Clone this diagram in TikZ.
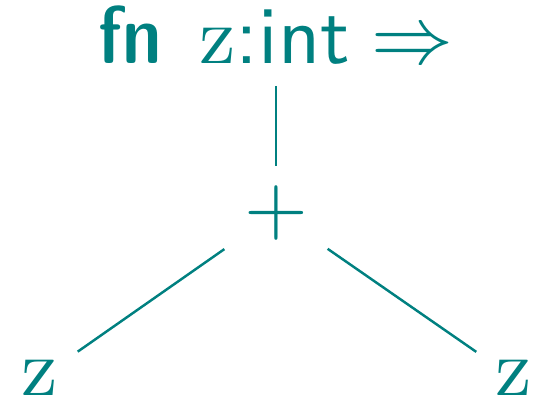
\documentclass[tikz,border=0pt]{standalone}
\usepackage{amsmath,amssymb}
\usepackage{xcolor}
\usepackage{tikz}
\usetikzlibrary{positioning}

\begin{document}
\begin{tikzpicture}[
    x=0.122pt,y=-0.122pt,
    every node/.style={text=teal,font=\fontsize{10}{12}\selectfont},
    root/.style={anchor=base,inner xsep=0pt,inner ysep=2.6pt,text depth=0pt},
    op/.style={inner sep=0pt,minimum width=12.2pt,minimum height=11pt},
    leaf/.style={inner sep=0pt,minimum width=8.8pt,minimum height=7.3pt},
    edge/.style={teal,line width=0.3pt}]

    \useasboundingbox (0,0) rectangle (544,401);

    \node[root] (fn) at (276,63)
      {{\sffamily\fontseries{sbc}\selectfont fn}\hspace{4.6pt}$\mathrm{z}${\sffamily :int}\hspace{2.6pt}$\Rightarrow$};
    \node[op] (plus) at (276,213) {$+$};
    \node[leaf] (zl) at (40,378) {$\mathrm{z}$};
    \node[leaf] (zr) at (514,378) {$\mathrm{z}$};

    \draw[edge] (fn) -- (plus);
    \draw[edge] (plus) -- (zl);
    \draw[edge] (plus) -- (zr);
  \end{tikzpicture}
\end{document}
